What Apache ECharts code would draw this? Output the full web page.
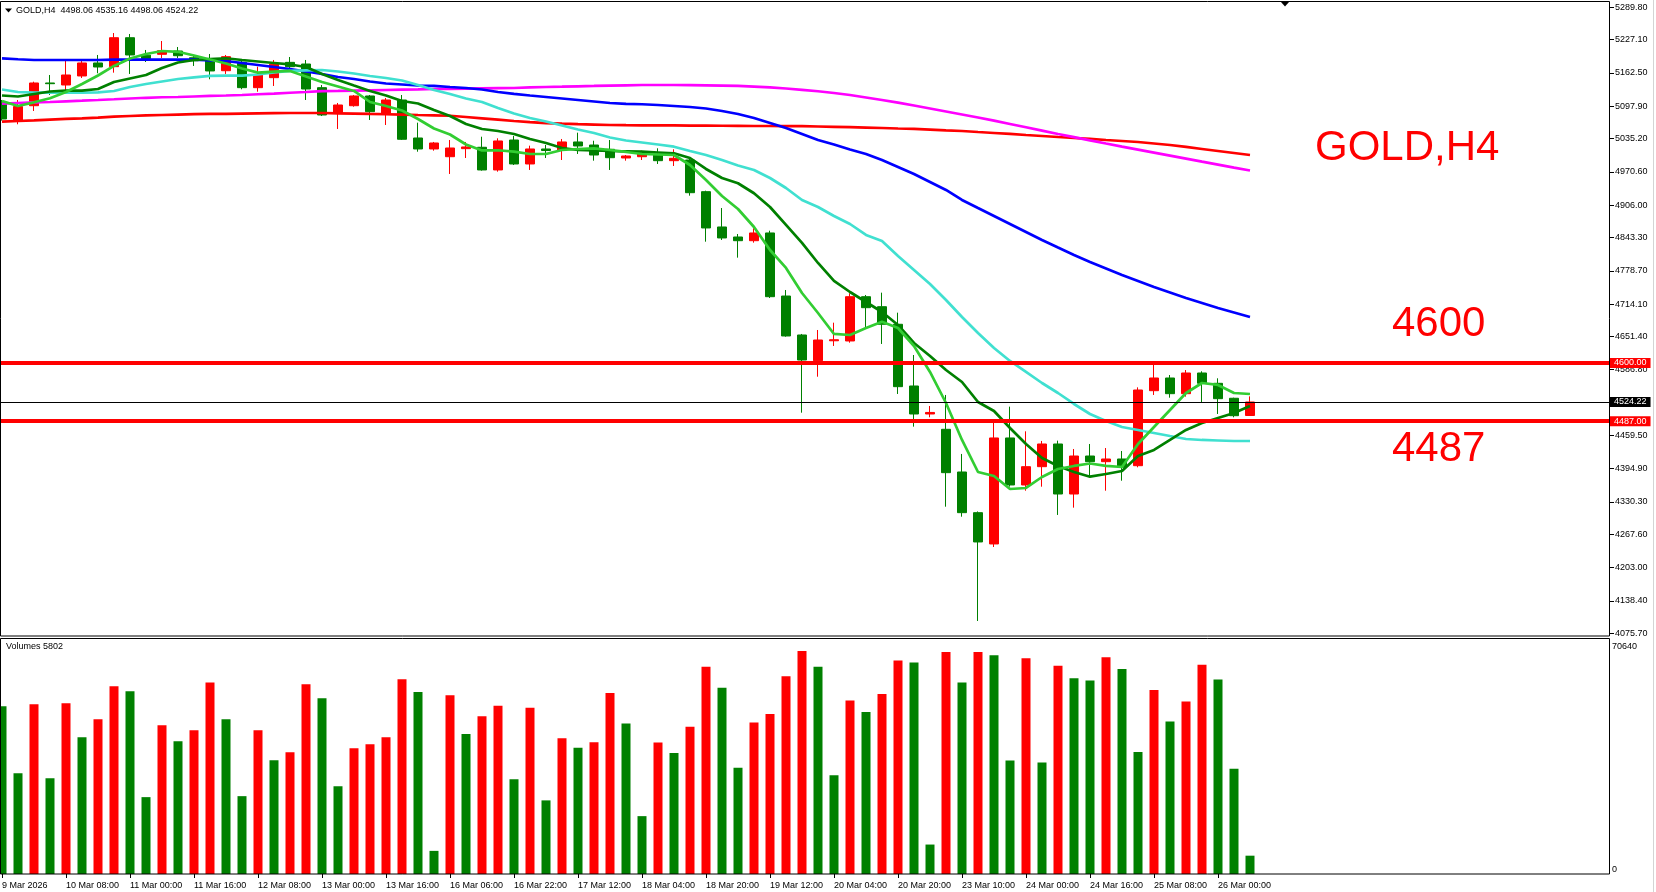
<!DOCTYPE html>
<html><head><meta charset="utf-8">
<script src="https://cdn.jsdelivr.net/npm/echarts@6/dist/echarts.min.js"></script>
<style>html,body{margin:0;padding:0;background:#fff;overflow:hidden;width:1656px;height:892px;position:relative;}#c{position:absolute;left:-6px;top:0;width:1662px;height:892px;}</style>
</head><body><div id="c"></div>
<script>
// ---------- DATA ----------
const timeLabels = ["9 Mar 2026","10 Mar 08:00","11 Mar 00:00","11 Mar 16:00","12 Mar 08:00","13 Mar 00:00","13 Mar 16:00","16 Mar 06:00","16 Mar 22:00","17 Mar 12:00","18 Mar 04:00","18 Mar 20:00","19 Mar 12:00","20 Mar 04:00","20 Mar 20:00","23 Mar 10:00","24 Mar 00:00","24 Mar 16:00","25 Mar 08:00","26 Mar 00:00"];
// [open, high, low, close]
const ohlc = [
[5105,5110,5070,5073.2],[5071.2,5110,5062.9,5097.4],[5098.9,5145.5,5088.7,5143.0],[5143.0,5158.5,5119.7,5141.6],[5139.1,5185.6,5128.8,5158.5],
[5156.6,5186.6,5152.7,5181.8],[5181.8,5197.3,5161.8,5174.0],[5174.6,5239.9,5163.0,5230.8],[5230.8,5238.0,5160.5,5197.3],[5197,5207,5183.7,5190],
[5198.6,5224.4,5191.5,5205.6],[5205.0,5212.8,5191.5,5195.9],[5192,5197,5176,5186],[5185.6,5199.2,5150.2,5166.3],[5166.8,5197.3,5160.5,5194.0],
[5183.1,5187.6,5130.8,5133.9],[5133.9,5174.6,5126.1,5158.5],[5153.3,5187.6,5137.2,5179.3],[5183,5193.4,5170,5174.6],[5179.8,5187.6,5110.0,5131.3],
[5133.9,5139.1,5078.9,5080.9],[5084.2,5104.2,5053.8,5100.3],[5098.9,5119.7,5097.0,5117.8],[5117.8,5119.7,5071.2,5087.3],[5084.2,5113.9,5061.5,5110.0],
[5110.0,5119.7,5032.4,5033.8],[5036.3,5066.0,5009.7,5015.0],[5015.0,5028.6,5011.7,5026.6],[5000.0,5032.4,4966.5,5016.9],[5015.6,5028.6,4997.5,5018.9],
[5018.3,5038.8,4973.0,4974.3],[4974.3,5035.7,4971.0,5030.5],[5032.4,5040.2,4983.9,4985.9],[4985.9,5021.4,4974.3,5015.0],[5015,5022.7,4997.5,5012],
[5013.0,5034.4,4993.6,5028.6],[5028.6,5046.6,5005.3,5020.8],[5022.7,5031.0,4992.3,5003.3],[5014.4,5032.4,4974.3,4998.1],[4997.5,5003.3,4992.3,5001.4],
[5000.0,5011.7,4993.6,5005.3],[5005.3,5016.3,4985.9,4992.3],[4992.3,5014.4,4982.0,4996.9],[4993.6,4997.5,4924.4,4930.2],[4932.2,4934.1,4835.2,4861.8],
[4863.7,4900.5,4838.5,4842.4],[4844.3,4850.1,4804.2,4837.1],[4837.1,4861.2,4833.3,4852.1],[4852.1,4856.5,4725.9,4728.5],[4729.8,4741.5,4650.9,4652.3],
[4654.2,4656.2,4503.5,4605.7],[4604.4,4663.9,4573.3,4644.5],[4643,4678.1,4632.9,4645],[4642.6,4735.1,4639.3,4728.5],[4728.5,4731.8,4667.2,4707.2],
[4709.1,4736.3,4636.8,4675.0],[4675.0,4697.5,4539.8,4554.0],[4555.3,4615.4,4476.4,4501.0],[4501,4516.5,4494.6,4504],[4471.3,4537.9,4321.2,4387.2],
[4388.5,4423.5,4301.8,4309.6],[4309.6,4312,4099.5,4252.8],[4248.9,4484.1,4243,4454.5],[4454.5,4515.2,4360.0,4363.3],[4363.3,4467.4,4352.2,4398.8],
[4398.8,4448.7,4360.0,4442.8],[4442.8,4449.3,4305.2,4345.8],[4345.8,4433.1,4319.3,4419.5],[4419.5,4442.8,4379.4,4408.5],[4408.5,4435.0,4352.2,4413.7],
[4413.7,4429.2,4371.6,4397.6],[4400.7,4552.7,4397.6,4547.5],[4546.2,4599.3,4537.9,4570.8],[4570.8,4576.6,4532.6,4540.4],[4540.4,4586.3,4534.6,4580.5],
[4580.5,4583.8,4522.9,4560.5],[4560.5,4570.2,4501.0,4530.7],[4531.5,4532.6,4494.6,4497.7],[4498.06,4535.16,4498.06,4524.22]
];
const volumes = [53100,31900,53750,30350,54070,43300,49000,59450,57870,24350,
47100,42050,45500,60700,49000,24660,45500,36050,38580,60080,
55650,27830,39840,41100,43320,61660,57640,7330,56640,44320,
49980,53310,29990,52650,23320,42980,40000,41700,57310,47650,
18330,41650,38320,46650,65640,58980,33650,47980,50650,62640,
70640,65640,31320,54980,51310,56980,67640,66970,9330,70300,
60640,70310,69300,35990,68310,35320,65970,61980,61310,68640,
64970,38650,58310,48310,54640,66310,61640,33320,5802];
const maLime = [5108.1,5098.4,5105.5,5113.3,5125.5,5141.0,5157.5,5176.0,5190.5,5199.2,
5205.0,5203.5,5196.3,5188.6,5180.8,5171.1,5163.0,5164.9,5166.3,5155.6,
5144.9,5136.2,5127.5,5106.1,5098.4,5089.6,5073.2,5054.7,5043.1,5023.7,
5012.1,5012.5,5009.7,5005.3,5005.3,5013.0,5015.0,5016.3,5013.0,5009.2,
5005.3,5004.3,5003.3,4983.9,4954.9,4923.8,4898.6,4863.7,4819.1,4784.2,
4735.7,4696.9,4656.2,4654.2,4667.8,4680.0,4667.8,4632.9,4582.5,4522.3,
4450.6,4388.5,4380.8,4355.5,4357.5,4378.8,4394.3,4400.2,4405.0,4400.2,
4398.2,4442.8,4475.8,4508.8,4541.7,4561.1,4557.3,4541.7,4539.8];
const maDarkGreen = [5118.7,5116.8,5121.7,5126.5,5128.1,5128.1,5131.3,5144.9,5151.7,5158.5,
5172.1,5182.7,5187.6,5189.5,5190.9,5187.6,5184.7,5181.8,5178.9,5174.0,
5160.4,5148.8,5138.1,5127.5,5118.7,5108.1,5103.2,5090.6,5079.0,5063.5,
5053.8,5049.9,5044.1,5034.4,5026.6,5016.9,5013.0,5012.1,5011.1,5010.5,
5009.7,5008.2,5006.6,4997.5,4976.2,4958.7,4948.5,4929.1,4902.5,4867.6,
4832.7,4793.9,4759.0,4737.6,4718.2,4698.8,4673.6,4638.7,4613.5,4586.3,
4563.1,4524.3,4506.8,4473.9,4442.8,4415.7,4400.2,4388.5,4379.4,4384.6,
4390.5,4419.6,4431.2,4450.6,4470.0,4483.6,4493.3,4503.0,4516.5];
const maTurquoise = [5130.4,5125.5,5124.2,5124.2,5124.2,5124.2,5124.6,5127.5,5135.2,5141.0,
5145.9,5150.7,5153.7,5156.6,5157.1,5157.1,5159.5,5163.4,5166.3,5167.6,
5168.2,5165.3,5161.4,5156.6,5152.7,5147.8,5139.1,5129.4,5121.7,5112.9,
5106.1,5094.5,5083.8,5075.1,5068.3,5060.6,5052.8,5046.0,5037.3,5031.5,
5027.6,5023.7,5019.4,5011.1,5003.3,4993.6,4983.0,4974.2,4958.7,4939.3,
4916.1,4902.5,4885.0,4869.5,4848.2,4836.5,4807.5,4780.3,4753.1,4722.1,
4689.1,4658.1,4629.0,4603.8,4582.5,4561.1,4541.7,4520.4,4501.0,4487.4,
4475.8,4470.0,4464.2,4458.3,4452.5,4450.6,4449.6,4448.6,4448.6];
const maBlue = [5190.9,5189.0,5187.6,5187.6,5187.6,5187.6,5187.6,5188.2,5188.2,5188.2,
5188.2,5188.2,5188.2,5186.6,5185.6,5181.8,5177.9,5174.0,5170.1,5165.3,
5160.4,5154.6,5150.7,5145.9,5142.0,5140.1,5138.1,5137.2,5135.2,5133.3,
5130.4,5125.5,5121.7,5118.7,5115.8,5112.9,5110.0,5107.1,5104.2,5102.3,
5101.7,5100.3,5098.4,5096.4,5093.5,5088.7,5082.9,5075.1,5065.4,5055.7,
5044.1,5032.4,5023.7,5014.0,5005.3,4993.6,4980.1,4966.5,4951.0,4935.5,
4916.1,4900.5,4885.0,4869.5,4854.0,4838.5,4823.9,4809.4,4795.8,4783.2,
4770.6,4759.0,4747.3,4736.7,4726.0,4716.3,4706.6,4697.9,4689.1];
const maMagenta = [5102.8,5104.2,5105.2,5106.1,5107.5,5108.7,5110.0,5111.4,5112.9,5114.3,
5115.3,5115.8,5116.8,5117.8,5118.7,5119.7,5121.1,5122.4,5124.0,5125.5,
5127.1,5127.5,5128.1,5128.8,5129.4,5130.0,5130.6,5131.3,5131.7,5132.1,
5132.5,5132.9,5133.3,5134.3,5135.2,5135.8,5136.6,5137.2,5137.9,5138.5,
5139.1,5139.1,5139.1,5138.9,5138.5,5137.9,5137.2,5135.8,5134.3,5132.3,
5129.8,5126.9,5123.6,5119.7,5114.9,5110.0,5104.8,5099.3,5093.5,5087.7,
5081.9,5076.1,5069.9,5063.5,5057.1,5050.7,5044.1,5037.9,5031.7,5025.6,
5019.6,5013.8,5008.0,5002.2,4996.4,4990.5,4984.7,4978.9,4973.3];
const maRed = [5067.9,5069.3,5070.6,5072.0,5073.2,5074.3,5075.9,5077.6,5079.0,5080.0,
5080.9,5081.7,5082.5,5082.9,5083.2,5083.6,5084.0,5084.4,5084.8,5084.8,
5084.8,5084.2,5083.6,5082.9,5082.3,5081.7,5080.9,5080.3,5079.4,5077.0,
5074.5,5072.0,5069.3,5067.0,5065.0,5064.0,5063.1,5062.3,5061.5,5061.1,
5060.9,5060.7,5060.6,5060.4,5060.2,5060.0,5059.8,5059.6,5059.6,5059.4,
5059.2,5058.6,5058.0,5057.3,5056.5,5055.7,5054.7,5053.8,5052.6,5051.2,
5049.9,5047.9,5046.0,5044.1,5042.1,5040.2,5038.2,5036.3,5034.4,5032.4,
5030.5,5028.5,5025.6,5022.7,5018.9,5015.0,5011.1,5007.2,5003.3];
const priceTicks = [5289.80,5227.10,5162.50,5097.90,5035.20,4970.60,4906.00,4843.30,4778.70,4714.10,4651.40,4586.80,4459.50,4394.90,4330.30,4267.60,4203.00,4138.40,4075.70];
const volumeTicks = [0, 70640];
const levelLines = [4600.00, 4487.00];
const lastPrice = 4524.22;
const headerText = "GOLD,H4  4498.06 4535.16 4498.06 4524.22";
const volumeTitle = "Volumes 5802";
const SLOTS = 101;
// ---------- CHART ----------
const FONT = 'Liberation Sans';
const RED = '#FF0000', GREEN = '#008000';
const OX = 6; // chart canvas is shifted 6px left of the page
const slots = Array.from({length: SLOTS}, (_, i) => String(i));
const candleData = ohlc.map(d => [d[0], d[3], d[2], d[1]]);
const volData = volumes.map((v, i) => ({value: v, itemStyle: {color: (i > 0 && v > volumes[i-1]) ? RED : GREEN}}));
const lineS = (data, color) => ({type: 'line', xAxisIndex: 0, yAxisIndex: 0, data, showSymbol: false, symbol: 'none', silent: true, z: 3, lineStyle: {color, width: 2.7}});
const tag = (txt, bg) => ({show: true, formatter: txt, position: 'end', distance: 0, backgroundColor: bg, color: '#fff', fontSize: 9, fontFamily: FONT, padding: [1, 4, 0, 4], lineHeight: 9});
const txt = (x, y, text, size, color) => ({type: 'text', x: x + OX, y, z: 20, silent: true,
  style: {text, fill: color, font: size + 'px ' + FONT, textAlign: 'left', textVerticalAlign: 'middle', align: 'left', verticalAlign: 'middle'}});

const chart = echarts.init(document.getElementById('c'), null, {renderer: 'canvas'});
chart.setOption({
  animation: false,
  backgroundColor: '#fff',
  grid: [
    {left: 0, top: 1, width: 1616, height: 635, outerBoundsMode: 'none'},
    {left: 0, top: 638.5, width: 1616, height: 235.5, outerBoundsMode: 'none'}
  ],
  xAxis: [
    {type: 'category', gridIndex: 0, data: slots, boundaryGap: true, show: false},
    {type: 'category', gridIndex: 1, data: slots, boundaryGap: true,
      axisLine: {show: false},
      axisTick: {show: true, alignWithLabel: true, length: 4, lineStyle: {color: '#000'}, interval: (i) => i % 4 === 0 && i / 4 < timeLabels.length},
      axisLabel: {show: true, align: 'left', margin: 7, color: '#000', fontSize: 9, fontFamily: FONT,
        interval: (i) => i % 4 === 0 && i / 4 < timeLabels.length,
        formatter: (v, i) => timeLabels[i / 4] || ''}
    }
  ],
  yAxis: [
    {type: 'value', gridIndex: 0, position: 'right', min: 4070.4, max: 5302.0,
      splitLine: {show: false}, axisLine: {show: false},
      axisTick: {show: true, customValues: priceTicks, length: 4, lineStyle: {color: '#000'}},
      axisLabel: {customValues: priceTicks, formatter: v => v.toFixed(2), color: '#000', fontSize: 9, fontFamily: FONT, margin: 5}
    },
    {type: 'value', gridIndex: 1, position: 'right', min: 0, max: 74600,
      splitLine: {show: false}, axisLine: {show: false}, axisTick: {show: false},
      axisLabel: {customValues: volumeTicks, formatter: v => String(v), color: '#000', fontSize: 9, fontFamily: FONT, margin: 2, verticalAlign: 'bottom'}
    }
  ],
  series: [
    {type: 'candlestick', xAxisIndex: 0, yAxisIndex: 0, data: candleData, barWidth: 10, z: 2, silent: true,
      itemStyle: {color: RED, color0: GREEN, borderColor: RED, borderColor0: GREEN, borderColorDoji: RED, borderWidth: 1}},
    lineS(maRed, RED),
    lineS(maMagenta, '#FF00FF'),
    lineS(maBlue, '#0000FF'),
    lineS(maTurquoise, '#40E0D0'),
    lineS(maDarkGreen, GREEN),
    lineS(maLime, '#32CD32'),
    {type: 'line', xAxisIndex: 0, yAxisIndex: 0, data: [], z: 10, silent: true,
      markLine: {symbol: ['none', 'none'], silent: true, animation: false,
        data: [
          {yAxis: levelLines[0], lineStyle: {color: RED, width: 4, type: 'solid'}, label: tag(levelLines[0].toFixed(2), RED)},
          {yAxis: levelLines[1], lineStyle: {color: RED, width: 4, type: 'solid'}, label: tag(levelLines[1].toFixed(2), RED)},
          {yAxis: lastPrice, lineStyle: {color: '#000', width: 1, type: 'solid'}, label: tag(lastPrice.toFixed(2), '#000')}
        ]}
    },
    {type: 'bar', xAxisIndex: 1, yAxisIndex: 1, data: volData, barWidth: 9, silent: true}
  ],
  graphic: [
    {type: 'rect', shape: {x: 0.5 + OX, y: 1.5, width: 1609, height: 634.5}, style: {fill: 'none', stroke: '#000', lineWidth: 1}, z: 20, silent: true},
    {type: 'rect', shape: {x: 0.5 + OX, y: 638.5, width: 1609, height: 235.5}, style: {fill: 'none', stroke: '#000', lineWidth: 1}, z: 20, silent: true},
    {type: 'line', shape: {x1: 1653.5 + OX, y1: 0, x2: 1653.5 + OX, y2: 892}, style: {stroke: '#d4d4d4', lineWidth: 1}, z: 20, silent: true},
    {type: 'polygon', shape: {points: [[5 + OX, 8.5], [12 + OX, 8.5], [8.5 + OX, 12.5]]}, style: {fill: '#000'}, z: 20, silent: true},
    {type: 'polygon', shape: {points: [[1281 + OX, 2], [1289 + OX, 2], [1285 + OX, 6.5]]}, style: {fill: '#000'}, z: 20, silent: true},
    txt(16, 10.7, headerText, 9, '#000'),
    txt(6, 647, volumeTitle, 9, '#000'),
    txt(1315, 148, 'GOLD,H4', 42, RED),
    txt(1392, 324, '4600', 42, RED),
    txt(1392, 449, '4487', 42, RED)
  ]
});
</script></body></html>
